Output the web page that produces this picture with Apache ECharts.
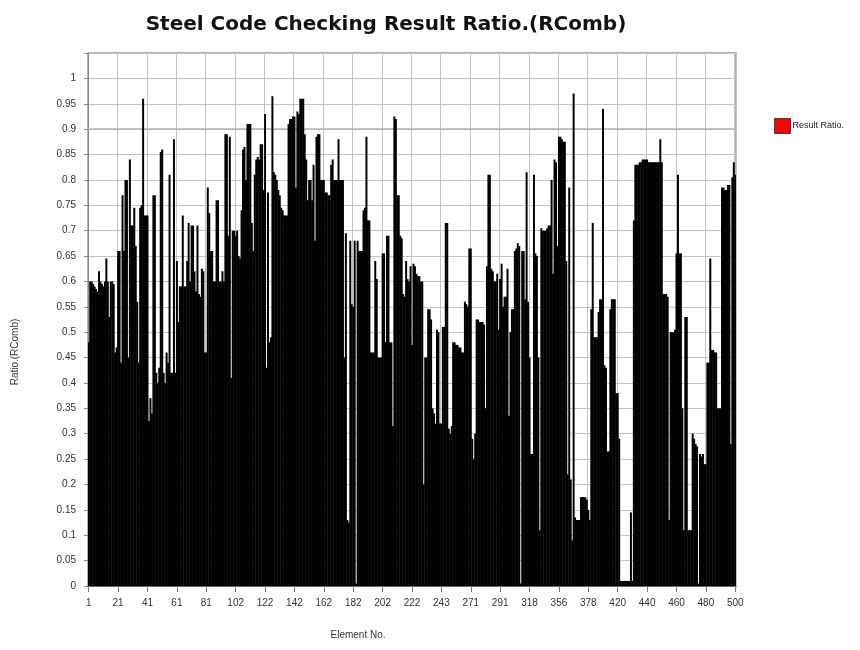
<!DOCTYPE html>
<html>
<head>
<meta charset="utf-8">
<script src="https://cdn.jsdelivr.net/npm/echarts@6/dist/echarts.min.js"></script>
<style>
  html, body { margin: 0; padding: 0; background: #fff; }
  #chart { width: 860px; height: 650px; }
</style>
</head>
<body>
<div id="chart"></div>
<script>
// Element numbers printed under the axis (one every 20 elements)
const tickLabels = ['1','21','41','61','81','102','122','142','162','182','202','222',
                    '243','271','291','318','356','378','420','440','460','480','500'];

// Combined stress ratio per element, in element order (20 per row)
const ratio00 = [0.48,0.60,0.60,0.595,0.59,0.585,0.58,0.62,0.60,0.595,0.59,0.60,0.645,0.60,0.53,0.60,0.60,0.595,0.46,0.47];
const ratio01 = [0.66,0.66,0.44,0.77,0.66,0.80,0.80,0.45,0.84,0.71,0.71,0.745,0.67,0.56,0.44,0.745,0.75,0.96,0.73,0.73];
const ratio02 = [0.73,0.325,0.37,0.34,0.77,0.77,0.42,0.40,0.43,0.855,0.86,0.42,0.40,0.46,0.44,0.81,0.42,0.42,0.88,0.42];
const ratio03 = [0.64,0.52,0.59,0.59,0.73,0.59,0.59,0.64,0.715,0.60,0.71,0.71,0.62,0.58,0.71,0.575,0.57,0.625,0.62,0.46];
const ratio04 = [0.46,0.785,0.735,0.66,0.66,0.60,0.60,0.76,0.76,0.60,0.60,0.62,0.60,0.89,0.89,0.69,0.885,0.41,0.70,0.70];
const ratio05 = [0.69,0.70,0.65,0.645,0.74,0.86,0.865,0.80,0.91,0.91,0.91,0.715,0.66,0.81,0.84,0.845,0.84,0.87,0.87,0.78];
const ratio06 = [0.93,0.43,0.775,0.48,0.49,0.965,0.815,0.81,0.80,0.78,0.77,0.745,0.74,0.73,0.73,0.73,0.91,0.92,0.92,0.925];
const ratio07 = [0.925,0.785,0.935,0.93,0.96,0.96,0.96,0.89,0.84,0.76,0.80,0.80,0.76,0.83,0.68,0.885,0.89,0.89,0.80,0.80];
const ratio08 = [0.80,0.775,0.775,0.77,0.77,0.83,0.84,0.80,0.80,0.80,0.88,0.80,0.80,0.80,0.45,0.695,0.13,0.125,0.68,0.555];
const ratio09 = [0.55,0.68,0.005,0.68,0.66,0.66,0.66,0.74,0.745,0.885,0.72,0.72,0.46,0.46,0.46,0.64,0.605,0.45,0.45,0.45];
const ratio10 = [0.655,0.655,0.48,0.69,0.69,0.48,0.48,0.315,0.925,0.92,0.77,0.77,0.69,0.685,0.575,0.57,0.64,0.605,0.60,0.63];
const ratio11 = [0.475,0.635,0.63,0.615,0.61,0.61,0.60,0.60,0.20,0.45,0.45,0.545,0.545,0.525,0.35,0.34,0.32,0.505,0.50,0.32];
const ratio12 = [0.32,0.51,0.51,0.715,0.715,0.31,0.30,0.315,0.48,0.48,0.475,0.475,0.47,0.47,0.46,0.46,0.56,0.555,0.55,0.665];
const ratio13 = [0.665,0.29,0.25,0.30,0.525,0.525,0.52,0.52,0.52,0.515,0.35,0.63,0.81,0.81,0.625,0.62,0.60,0.60,0.615,0.505];
const ratio14 = [0.605,0.635,0.55,0.57,0.57,0.625,0.335,0.50,0.545,0.545,0.66,0.665,0.675,0.67,0.005,0.66,0.66,0.565,0.815,0.56];
const ratio15 = [0.45,0.26,0.26,0.81,0.655,0.65,0.45,0.11,0.705,0.70,0.70,0.70,0.705,0.71,0.71,0.80,0.615,0.84,0.835,0.67];
const ratio16 = [0.885,0.885,0.88,0.875,0.875,0.64,0.22,0.785,0.21,0.09,0.97,0.135,0.13,0.13,0.13,0.175,0.175,0.175,0.175,0.17];
const ratio17 = [0.15,0.13,0.545,0.715,0.49,0.49,0.49,0.54,0.565,0.565,0.94,0.435,0.43,0.265,0.265,0.545,0.565,0.565,0.565,0.38];
const ratio18 = [0.38,0.29,0.01,0.01,0.01,0.01,0.01,0.01,0.01,0.145,0.01,0.72,0.83,0.83,0.83,0.835,0.835,0.84,0.84,0.84];
const ratio19 = [0.84,0.835,0.835,0.835,0.835,0.835,0.835,0.835,0.835,0.88,0.835,0.575,0.575,0.575,0.57,0.13,0.50,0.50,0.50,0.505];
const ratio20 = [0.655,0.81,0.655,0.655,0.35,0.11,0.53,0.53,0.11,0.11,0.11,0.30,0.29,0.28,0.275,0.005,0.26,0.255,0.26,0.24];
const ratio21 = [0.24,0.44,0.44,0.645,0.465,0.465,0.46,0.46,0.35,0.35,0.35,0.785,0.785,0.78,0.78,0.79,0.79,0.28,0.805,0.835];
const ratio22 = [0.81];

const ratioRows = [ratio00, ratio01, ratio02, ratio03, ratio04, ratio05, ratio06, ratio07,
                   ratio08, ratio09, ratio10, ratio11, ratio12, ratio13, ratio14, ratio15,
                   ratio16, ratio17, ratio18, ratio19, ratio20, ratio21, ratio22];
const ratios = [].concat(...ratioRows);

// Element numbers: each printed label starts a run of 20 elements
const elements = [];
tickLabels.forEach((lab, s) => {
  const start = parseInt(lab, 10);
  const count = s < tickLabels.length - 1 ? 20 : 1;
  for (let k = 0; k < count; k++) elements.push(String(start + k));
});

const chart = echarts.init(document.getElementById('chart'), null, { renderer: 'canvas' });

chart.setOption({
  animation: false,
  backgroundColor: '#ffffff',
  title: {
    text: 'Steel Code Checking Result Ratio.(RComb)',
    left: 381,
    top: 10,
    textAlign: 'center',
    textStyle: { fontFamily: '"DejaVu Sans", Arial, sans-serif', fontSize: 20, fontWeight: 'bold', color: '#111' }
  },
  legend: {
    left: 769,
    top: 113,
    orient: 'vertical',
    itemWidth: 16,
    itemHeight: 15,
    itemGap: 4,
    icon: 'rect',
    textStyle: { fontFamily: 'Liberation Sans, Arial, sans-serif', fontSize: 9, color: '#222', padding: [0, 0, 0, -3] },
    data: [{ name: 'Result Ratio.', itemStyle: { color: '#ff0000', borderColor: '#444', borderWidth: 1 } }]
  },
  grid: {
    left: 88, right: 124, top: 53, bottom: 64,
    show: true, borderColor: '#9a9a9a', borderWidth: 1.5, backgroundColor: '#ffffff'
  },
  xAxis: {
    type: 'category',
    data: elements,
    boundaryGap: true,
    axisLine: { show: true, lineStyle: { color: '#666', width: 1 } },
    axisTick: { show: true, interval: 19, alignWithLabel: true, length: 6, lineStyle: { color: '#777' } },
    axisLabel: {
      interval: 19, margin: 12,
      fontFamily: 'Liberation Sans, Arial, sans-serif', fontSize: 10, color: '#333'
    },
    splitLine: { show: true, interval: 19, lineStyle: { color: '#c4c4c4', width: 1 } }
  },
  yAxis: {
    type: 'value',
    min: 0, max: 1.05, interval: 0.05,
    axisLine: { show: true, lineStyle: { color: '#888', width: 1 } },
    axisTick: { show: true, length: 4, lineStyle: { color: '#888' } },
    axisLabel: {
      margin: 12,
      fontFamily: 'Liberation Sans, Arial, sans-serif', fontSize: 10, color: '#333',
      formatter: v => (v > 1.001 ? '' : String(Math.round(v * 100) / 100))
    },
    splitLine: { show: true, lineStyle: { color: '#c4c4c4', width: 1 } }
  },
  graphic: [
    {
      type: 'text',
      position: [358, 635],
      style: { text: 'Element No.', x: 0, y: 0, textAlign: 'center', textVerticalAlign: 'middle', fill: '#333',
               font: '10px "Liberation Sans", Arial, sans-serif' }
    },
    {
      type: 'text', rotation: Math.PI / 2,
      position: [15, 352],
      style: { text: 'Ratio.(RComb)', x: 0, y: 0, textAlign: 'center', textVerticalAlign: 'middle', fill: '#333',
               font: '10px "Liberation Sans", Arial, sans-serif' }
    }
  ],
  series: [{
    name: 'Result Ratio.',
    type: 'bar',
    data: ratios,
    barWidth: '135%',
    itemStyle: { color: '#000000' },
    emphasis: { disabled: true },
    markLine: {
      silent: true, symbol: 'none', label: { show: false },
      lineStyle: { color: '#b4b4b4', width: 1.5, type: 'solid' },
      data: [{ yAxis: 0.9 }],
      z: 1
    }
  }]
});
</script>
</body>
</html>
